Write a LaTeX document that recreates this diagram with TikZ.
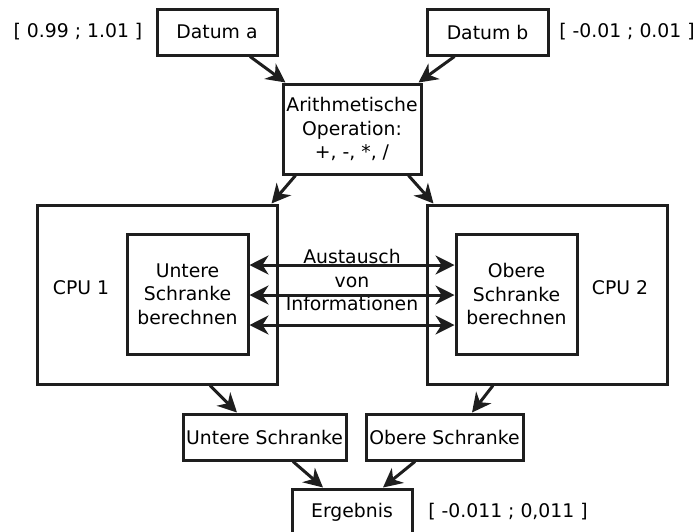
\documentclass[tikz,border=0pt]{standalone}
\usepackage{fontspec}
\setmainfont{DejaVu Sans}
\usetikzlibrary{arrows.meta,calc}
\definecolor{ink}{RGB}{30,30,30}
\tikzset{
  box/.style={draw=ink, line width=3pt, inner sep=0pt, align=center,
              text=black, font=\fontsize{18.8}{23.5}\selectfont},
  lbl/.style={inner sep=0pt, align=center, text=black,
              font=\fontsize{18.8}{23.5}\selectfont},
  conn/.style={draw=ink, line width=3pt,
               -{Stealth[length=19pt, width=19pt, inset=6pt]}},
  bothconn/.style={draw=ink, line width=3pt,
               {Stealth[length=19pt, width=19pt, inset=6pt]}-{Stealth[length=19pt, width=19pt, inset=6pt]}}
}
\begin{document}
\begin{tikzpicture}[x=1pt, y=-1pt]
  \path[use as bounding box] (0,0) rectangle (698,531);
  \clip (0,0) rectangle (698,531);

  % inputs
  \node[box, minimum width=120pt, minimum height=46pt] (da) at (217,32) {Datum a};
  \node[box, minimum width=121pt, minimum height=46pt] (db) at (487.5,32) {Datum b};
  \node[lbl] (ra) at (78,32) {[ 0.99 ; 1.01 ]};
  \node[lbl] (rb) at (627,32) {[ -0.01 ; 0.01 ]};

  % operation
  \node[box, minimum width=138pt, minimum height=90pt] (op) at (352,129)
       {Arithmetische\\Operation:\\+, -, *, /};

  % processors
  \node[box, minimum width=240pt, minimum height=179pt] (c1) at (157,294.5) {};
  \node[box, minimum width=240pt, minimum height=179pt] (c2) at (547,294.5) {};
  \node[lbl] (c1t) at (81,288) {CPU 1};
  \node[lbl] (c2t) at (620,288) {CPU 2};
  \node[box, minimum width=121pt, minimum height=120pt] (ui) at (187.5,294)
       {Untere\\Schranke\\berechnen};
  \node[box, minimum width=121pt, minimum height=120pt] (oi) at (516.5,294)
       {Obere\\Schranke\\berechnen};
  \node[lbl] (ex) at (352,280) {Austausch\\von\\Informationen};

  % bounds and result
  \node[box, minimum width=163pt, minimum height=46pt] (us) at (264.5,437) {Untere Schranke};
  \node[box, minimum width=157pt, minimum height=46pt] (os) at (444.5,437) {Obere Schranke};
  \node[box, minimum width=120pt, minimum height=46pt] (er) at (352,512) {Ergebnis};
  \node[lbl] (rr) at (508,512) {[ -0.011 ; 0,011 ]};

  % connectors
  \draw[conn] ($(da.south)+(33,0)$) -- ($(op.north west)+(4,0)$);
  \draw[conn] ($(db.south)+(-33,0)$) -- ($(op.north east)+(-4,0)$);
  \draw[conn] ($(op.south west)+(14,0)$) -- ($(c1.north east)+(-7,0)$);
  \draw[conn] ($(op.south east)+(-14,0)$) -- ($(c2.north west)+(8,0)$);
  \draw[bothconn] ($(ui.east)+(0,-29)$) -- ($(oi.west)+(0,-29)$);
  \draw[bothconn] ($(ui.east)+(0,1)$) -- ($(oi.west)+(0,1)$);
  \draw[bothconn] ($(ui.east)+(0,31)$) -- ($(oi.west)+(0,31)$);
  \draw[conn] ($(c1.south)+(53,0)$) -- ($(us.north)+(-27.5,0)$);
  \draw[conn] ($(c2.south)+(-54,0)$) -- ($(os.north)+(27.5,0)$);
  \draw[conn] ($(us.south)+(28.5,0)$) -- ($(er.north)+(-29,0)$);
  \draw[conn] ($(os.south)+(-29.5,0)$) -- ($(er.north)+(31,0)$);
\end{tikzpicture}
\end{document}
